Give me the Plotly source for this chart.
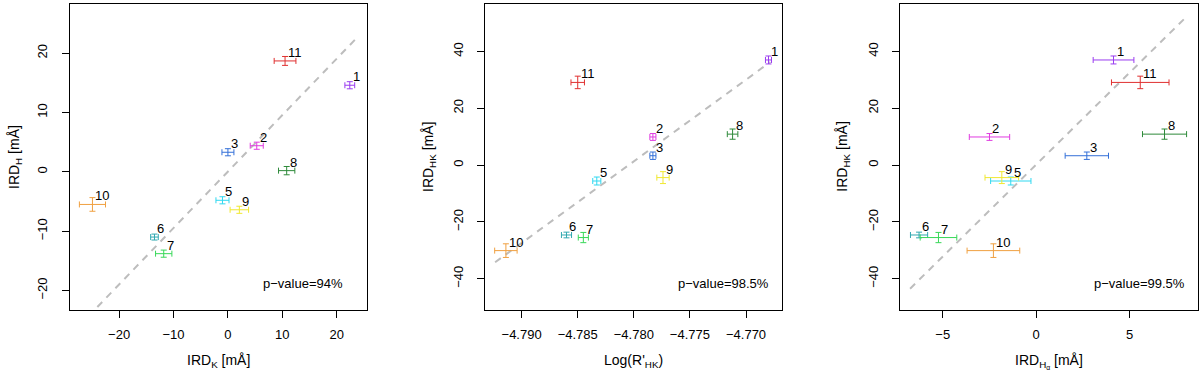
import plotly.graph_objects as go

# star labels (no. 4 absent) and colours
labels = ["1", "2", "3", "5", "6", "7", "8", "9", "10", "11"]
colors = ["#9a3cf0", "#e03ce0", "#3470d8", "#30d8f0", "#30a8b0",
          "#38d858", "#2e8a3a", "#f0e830", "#f0a040", "#e03030"]

# panel 1: IRD_K vs IRD_H
ird_k = [22.4, 5.3, 0.0, -1.0, -13.5, -11.8, 10.8, 2.1, -24.9, 10.5]
ird_k_err = [0.9, 1.2, 1.1, 1.2, 0.7, 1.5, 1.5, 1.7, 2.4, 2.0]
ird_h = [14.6, 4.4, 3.3, -4.8, -11.0, -13.8, 0.2, -6.4, -5.5, 18.7]
ird_h_err = [0.6, 0.6, 0.6, 0.6, 0.5, 0.6, 0.7, 0.6, 1.15, 0.75]

# panel 2: log R'HK vs IRD_HK
log_rhk = [-4.7680, -4.7783, -4.7783, -4.7833, -4.7860, -4.7845,
           -4.7712, -4.7774, -4.7914, -4.7850]
log_rhk_err = [0.00027, 0.00027, 0.00027, 0.00036, 0.00045, 0.00045,
               0.00047, 0.00055, 0.0010, 0.0006]
ird_hk = [37.0, 9.9, 3.3, -5.6, -24.6, -25.5, 10.9, -4.4, -30.1, 29.1]
ird_hk_err = [1.4, 1.2, 1.3, 1.4, 1.0, 1.8, 1.8, 2.1, 2.4, 2.2]

# panel 3: IRD_Halpha vs IRD_HK
ird_ha = [4.14, -2.50, 2.71, -1.36, -6.27, -5.23, 6.87, -1.84, -2.29, 5.57]
ird_ha_err = [1.09, 1.08, 1.16, 1.08, 0.46, 0.98, 1.18, 0.9, 1.41, 1.54]

# dashed fit lines (end points)
fit1_x = [-24.0, 23.8]
fit1_y = [-22.8, 22.7]
fit2_x = [-4.79236, -4.76783]
fit2_y = [-34.2, 36.3]
fit3_x = [-6.75, 8.07]
fit3_y = [-43.5, 52.4]

pvalues = ["p\u2212value=94%", "p\u2212value=98.5%", "p\u2212value=99.5%"]
x_titles = ["IRD<sub>K</sub> [mÅ]", "Log(R'<sub>HK</sub>)",
            "IRD<sub>H<sub>α</sub></sub> [mÅ]"]
y_titles = ["IRD<sub>H</sub> [mÅ]", "IRD<sub>HK</sub> [mÅ]",
            "IRD<sub>HK</sub> [mÅ]"]

FONT = "Liberation Sans, Arial, sans-serif"

panels = [
    (ird_k, ird_k_err, ird_h, ird_h_err, fit1_x, fit1_y),
    (log_rhk, log_rhk_err, ird_hk, ird_hk_err, fit2_x, fit2_y),
    (ird_ha, ird_ha_err, ird_hk, ird_hk_err, fit3_x, fit3_y),
]

fig = go.Figure()
annotations = []
for p, (xs, xe, ys, ye, fx, fy) in enumerate(panels):
    xa = "x" if p == 0 else "x%d" % (p + 1)
    ya = "y" if p == 0 else "y%d" % (p + 1)
    fig.add_trace(go.Scatter(x=fx, y=fy, mode="lines", xaxis=xa, yaxis=ya,
                             line=dict(color="#bdbdbd", width=2, dash="7px,6px"),
                             showlegend=False, hoverinfo="skip"))
    for i in range(len(labels)):
        fig.add_trace(go.Scatter(
            x=[xs[i]], y=[ys[i]], mode="markers", xaxis=xa, yaxis=ya,
            marker=dict(size=1, color=colors[i], opacity=0),
            error_x=dict(type="data", array=[xe[i]], color=colors[i],
                         thickness=1, width=3),
            error_y=dict(type="data", array=[ye[i]], color=colors[i],
                         thickness=1, width=3),
            showlegend=False))
        annotations.append(dict(x=xs[i], y=ys[i], xref=xa, yref=ya,
                                text=labels[i], showarrow=False,
                                xanchor="left", yanchor="bottom",
                                xshift=1, yshift=-1,
                                font=dict(size=13, color="black", family=FONT)))

pv_x = [0.927, 0.962, 0.964]
for p in range(3):
    xa = "x" if p == 0 else "x%d" % (p + 1)
    ya = "y" if p == 0 else "y%d" % (p + 1)
    annotations.append(dict(x=pv_x[p], y=0.085, xref=xa + " domain",
                            yref=ya + " domain", text=pvalues[p],
                            showarrow=False, xanchor="right", yanchor="middle",
                            font=dict(size=13, color="black", family=FONT)))

# axis titles as annotations (paper coords)
domains = [[0.058, 0.306], [0.404, 0.652], [0.75, 0.998]]
ytitle_x = [0.0125, 0.3575, 0.7022]
for p in range(3):
    annotations.append(dict(x=sum(domains[p]) / 2, y=-0.167, xref="paper",
                            yref="paper", text=x_titles[p], showarrow=False,
                            xanchor="center", yanchor="middle",
                            font=dict(size=14, color="black", family=FONT)))
    annotations.append(dict(x=ytitle_x[p], y=0.5, xref="paper", yref="paper",
                            text=y_titles[p], showarrow=False, textangle=-90,
                            xanchor="center", yanchor="middle",
                            font=dict(size=14, color="black", family=FONT)))

axis_common = dict(showline=True, mirror=True, linecolor="black", linewidth=1,
                   ticks="outside", ticklen=7, tickcolor="black",
                   showgrid=False, zeroline=False, automargin=False,
                   tickfont=dict(size=13, color="black", family=FONT))
xax = dict(axis_common, ticklabelstandoff=5)
yax = dict(axis_common, ticklabelstandoff=9, tickangle=-90)

fig.update_layout(
    width=1200, height=371,
    margin=dict(l=0, r=0, t=4, b=61),
    paper_bgcolor="white", plot_bgcolor="white",
    font=dict(family=FONT, size=12, color="black"),
    annotations=annotations,
    xaxis=dict(xax, domain=domains[0], range=[-29.1, 25.6], anchor="y",
               tickvals=[-20, -10, 0, 10, 20]),
    yaxis=dict(yax, domain=[0, 1], range=[-23.3, 28.3], anchor="x",
               tickvals=[-20, -10, 0, 10, 20]),
    xaxis2=dict(xax, domain=domains[1], range=[-4.79328, -4.76676],
                anchor="y2", tickvals=[-4.790, -4.785, -4.780, -4.775, -4.770],
                tickformat=".3f"),
    yaxis2=dict(yax, domain=[0, 1], range=[-51.0, 56.7], anchor="x2",
                tickvals=[-40, -20, 0, 20, 40]),
    xaxis3=dict(xax, domain=domains[2], range=[-7.29, 8.64], anchor="y3",
                tickvals=[-5, 0, 5]),
    yaxis3=dict(yax, domain=[0, 1], range=[-51.0, 56.7], anchor="x3",
                tickvals=[-40, -20, 0, 20, 40]),
)

# drop the default page margin so the figure sits at the window's corner
fig.write_html("out.html", config={"displayModeBar": False},
               post_script="document.body.style.margin='0';")
